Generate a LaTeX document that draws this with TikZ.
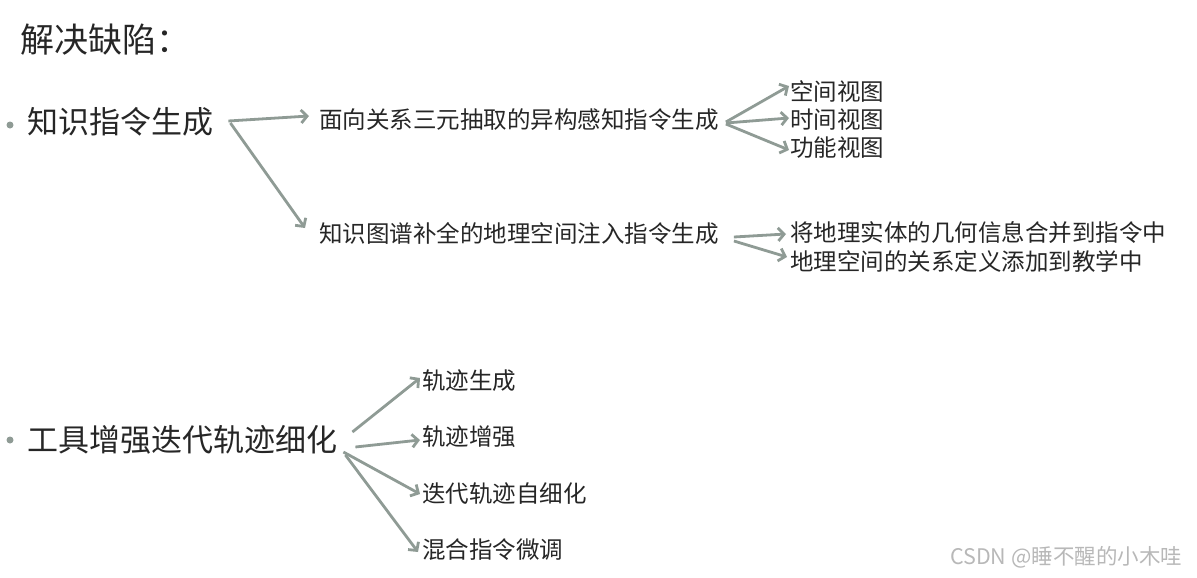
\documentclass[tikz,border=0pt]{standalone}
\usepackage{fontspec}
\newfontfamily\cjk{Noto Sans CJK SC}
\usetikzlibrary{arrows.meta, calc}
\definecolor{arrgray}{RGB}{143,155,149}

\begin{document}
\begin{tikzpicture}[
          x=1pt, y=-1pt,
          every node/.style={anchor=west, inner sep=0pt, text=black!85},
          head/.style={font=\cjk\fontsize{34}{40}\selectfont},
          lvlone/.style={font=\cjk\fontsize{31}{36}\selectfont},
          lvltwo/.style={font=\cjk\fontsize{23.5}{28}\selectfont},
          arr/.style={draw=arrgray, line width=2.8pt, -{Straight Barb[length=6pt, width=13pt]}},
          dot/.style={circle, fill=arrgray, minimum size=7pt}
        ]
          \useasboundingbox (0,0) rectangle (1197,578);
          \node[head] (title) at (20,40) {解决缺陷：};

          \node[dot, anchor=center] (b1) at (10,125) {};
          \node[lvlone] (know) at (27,122) {知识指令生成};
          \node[lvltwo] (het) at (319,120) {面向关系三元抽取的异构感知指令生成};
          \node[lvltwo] (space) at (790,92) {空间视图};
          \node[lvltwo] (time) at (790,120) {时间视图};
          \node[lvltwo] (func) at (790,148) {功能视图};
          \node[lvltwo] (geo) at (319,234) {知识图谱补全的地理空间注入指令生成};
          \node[lvltwo] (ent) at (790,233) {将地理实体的几何信息合并到指令中};
          \node[lvltwo] (rel) at (790,261) {地理空间的关系定义添加到教学中};

          \node[dot, anchor=center] (b2) at (10,440) {};
          \node[lvlone] (tool) at (27,440) {工具增强迭代轨迹细化};
          \node[lvltwo] (gen) at (422,381) {轨迹生成};
          \node[lvltwo] (aug) at (422,437) {轨迹增强};
          \node[lvltwo] (iter) at (422,494) {迭代轨迹自细化};
          \node[lvltwo] (mix) at (422,550) {混合指令微调};

          \node[font=\cjk\fontsize{21.5}{26}\selectfont, text=black!28] (mark) at (950,557) {CSDN @睡不醒的小木哇};

          \draw[arr] ($(know.east)+(15,-1)$) -- ($(het.west)+(-10,-4)$);
          \draw[arr] ($(know.east)+(17,1)$) -- ($(geo.west)+(-14,-6)$);
          \draw[arr] ($(het.east)+(7,2)$) -- ($(space.west)+(-1,-6)$);
          \draw[arr] ($(het.east)+(7,3)$) -- ($(time.west)+(-1,-2)$);
          \draw[arr] ($(het.east)+(7,4)$) -- ($(func.west)+(-1,2)$);
          \draw[arr] ($(geo.east)+(15,3)$) -- ($(ent.west)+(-4,1)$);
          \draw[arr] ($(geo.east)+(15,7)$) -- ($(rel.west)+(-3,-4)$);
          \draw[arr] ($(tool.east)+(15,-8)$) -- ($(gen.west)+(-2,-3)$);
          \draw[arr] ($(tool.east)+(18,7)$) -- ($(aug.west)+(-2,3)$);
          \draw[arr] ($(tool.east)+(6,12)$) -- ($(iter.west)+(-2,0)$);
          \draw[arr] ($(tool.east)+(8,15)$) -- ($(mix.west)+(-4,2)$);
        \end{tikzpicture}
\end{document}
